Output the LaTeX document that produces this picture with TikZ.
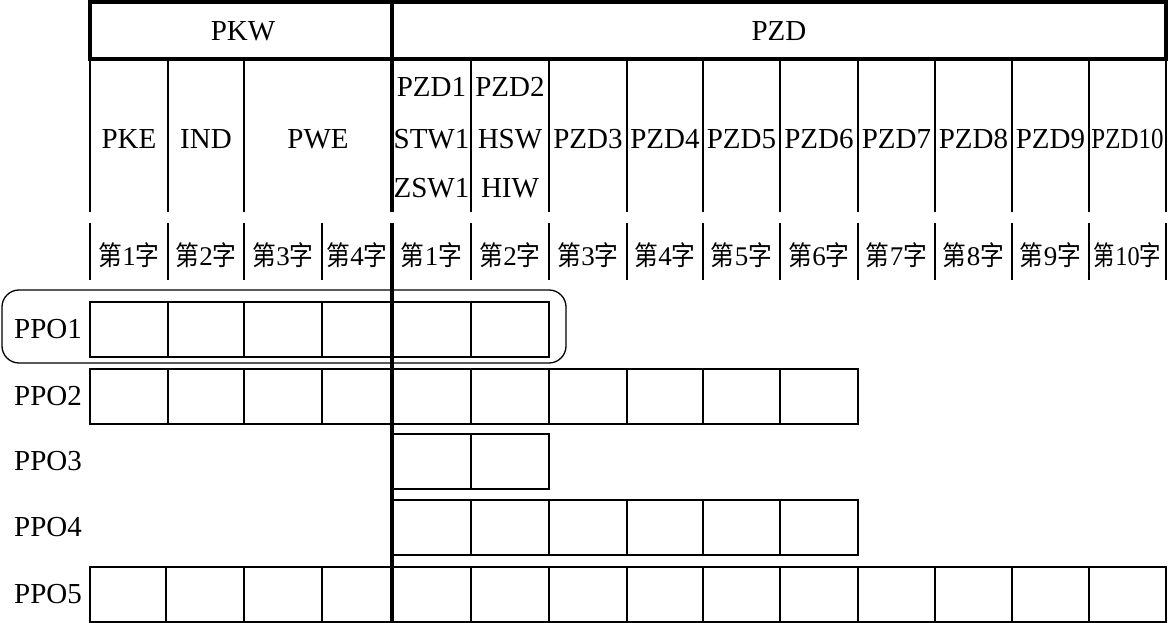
\documentclass[tikz,border=0pt]{standalone}
\usepackage{fontspec}
\setmainfont{Liberation Serif}
\newfontfamily\cjk{Noto Sans CJK SC}[FakeStretch=0.88]
\newcommand\zi[1]{{\cjk 第}#1{\cjk 字}}
\newcommand\boxrow[3]{\foreach \a/\b in {#3} \draw[cellline] (\a,#1) rectangle (\b,#2);}
\begin{document}
\begin{tikzpicture}[x=1pt,y=-1pt,
  thinline/.style={line width=1.5pt},
  cellline/.style={line width=1.9pt},
  thickline/.style={line width=3.4pt},
  lbl/.style={inner sep=0pt,font=\fontsize{29}{31}\selectfont},
  zlbl/.style={inner sep=0pt,font=\fontsize{27}{30}\selectfont}]
\useasboundingbox (0,0) rectangle (1168,623);
% header
\draw[thickline] (90,2) rectangle (1166,59);
\node[lbl] (hPKW) at (243,31) {PKW};
\node[lbl] (hPZD) at (779,31) {PZD};
% row 2 verticals
\foreach \x in {90,168,244,471,549,627,703,780,858,935,1012,1089,1166}
  \draw[thinline] (\x,59) -- (\x,212);
% row 3 verticals
\foreach \x in {90,168,244,322,471,549,627,703,780,858,935,1012,1089,1166}
  \draw[thinline] (\x,223) -- (\x,280);
% row 2 labels
\node[lbl] (pke) at (129,139) {PKE};
\node[lbl] (ind) at (206,139) {IND};
\node[lbl] (pwe) at (318,139) {PWE};
\node[lbl] (pzd1a) at (431.5,87) {PZD1};
\node[lbl] (pzd1b) at (431.5,139) {STW1};
\node[lbl] (pzd1c) at (431.5,188) {ZSW1};
\node[lbl] (pzd2a) at (510,87) {PZD2};
\node[lbl] (pzd2b) at (510,139) {HSW};
\node[lbl] (pzd2c) at (510,188) {HIW};
\foreach \n/\x in {3/588,4/665,5/741.5,6/819,7/896.5,8/973.5,9/1050.5}
  \node[lbl] (pzd\n) at (\x,139) {PZD\n};
\node[lbl] (pzd10) at (1127.5,139) {\scalebox{0.86}[1]{PZD10}};
% row 3 labels
\foreach \n/\x in {1/129,2/206,3/283,4/357}
  \node[zlbl] (wk\n) at (\x,255) {\zi{\n}};
\foreach \n/\x in {1/431.5,2/510,3/588,4/665,5/741.5,6/819,7/896.5,8/973.5,9/1050.5}
  \node[zlbl] (wz\n) at (\x,255) {\zi{\n}};
\node[zlbl] (wz10) at (1127.5,255) {\scalebox{0.9}[1]{\zi{10}}};
% PPO rows
\draw[line width=1.3pt, rounded corners=17pt] (2,290) rectangle (566,363);
\boxrow{302}{357}{90/168,168/244,244/322,322/392,392/471,471/549}
\boxrow{369}{424}{90/168,168/244,244/322,322/392,392/471,471/549,549/627,627/703,703/780,780/858}
\boxrow{434}{489}{392/471,471/549}
\boxrow{500}{555}{392/471,471/549,549/627,627/703,703/780,780/858}
\boxrow{567}{622}{90/166,166/244,244/322,322/392,392/471,471/549,549/627,627/703,703/780,780/858,858/935,935/1012,1012/1089,1089/1166}
\foreach \n/\y in {1/329.5,2/396.5,3/461.5,4/527.5,5/594.5}
  \node[lbl] (ppo\n) at (48,\y) {PPO\n};
% thick divider
\draw[thickline] (392,2) -- (392,212);
\draw[thickline] (392,223) -- (392,623);
\end{tikzpicture}
\end{document}
